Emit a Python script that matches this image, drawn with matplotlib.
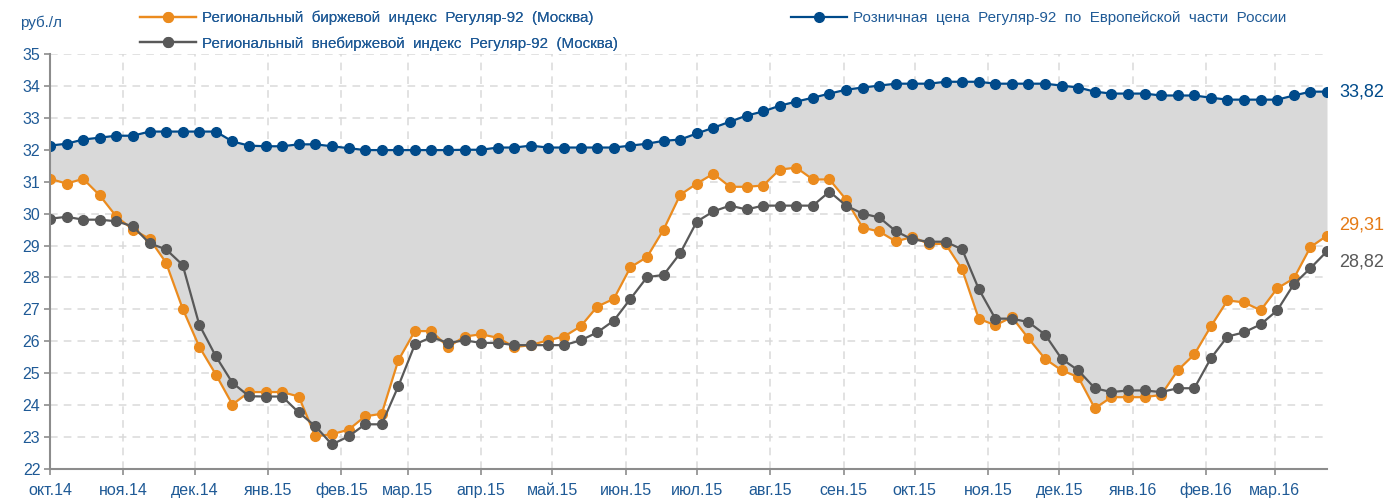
import matplotlib
matplotlib.use('Agg')
import matplotlib.pyplot as plt
import matplotlib.dates as mdates
from matplotlib.lines import Line2D
import numpy as np
import pandas as pd

plt.rcParams['font.family'] = ['Liberation Sans', 'DejaVu Sans']

# недельные даты
dates = pd.date_range('2014-10-01', periods=78, freq='7D')

# Розничная цена Регуляр-92 по Европейской части России
retail = [32.13, 32.19, 32.32, 32.38, 32.44, 32.44, 32.57, 32.57, 32.57, 32.57,
          32.57, 32.26, 32.13, 32.11, 32.11, 32.17, 32.17, 32.11, 32.05, 31.99,
          31.99, 31.99, 31.99, 31.99, 31.99, 32.00, 32.00, 32.07, 32.07, 32.13,
          32.07, 32.07, 32.07, 32.07, 32.07, 32.13, 32.19, 32.28, 32.32, 32.51,
          32.69, 32.88, 33.07, 33.20, 33.38, 33.51, 33.63, 33.76, 33.88, 33.95,
          34.01, 34.07, 34.07, 34.07, 34.13, 34.13, 34.13, 34.07, 34.07, 34.07,
          34.07, 34.01, 33.95, 33.82, 33.76, 33.76, 33.76, 33.70, 33.70, 33.70,
          33.63, 33.57, 33.57, 33.57, 33.57, 33.70, 33.82, 33.82]

# Региональный биржевой индекс Регуляр-92 (Москва)
exchange = [31.09, 30.94, 31.09, 30.57, 29.91, 29.50, 29.21, 28.46, 27.02, 25.83,
            24.96, 24.02, 24.41, 24.41, 24.41, 24.27, 23.02, 23.09, 23.23, 23.65,
            23.73, 25.40, 26.32, 26.32, 25.82, 26.15, 26.22, 26.11, 25.82, 25.88,
            26.03, 26.15, 26.47, 27.09, 27.33, 28.32, 28.64, 29.50, 30.59, 30.94,
            31.25, 30.84, 30.84, 30.88, 31.38, 31.44, 31.07, 31.07, 30.44, 29.56,
            29.44, 29.13, 29.27, 29.05, 29.05, 28.25, 26.71, 26.50, 26.76, 26.09,
            25.45, 25.09, 24.88, 23.90, 24.25, 24.25, 24.25, 24.32, 25.09, 25.59,
            26.47, 27.28, 27.22, 26.97, 27.66, 27.97, 28.95, 29.31]

# Региональный внебиржевой индекс Регуляр-92 (Москва)
otc = [29.84, 29.90, 29.81, 29.81, 29.76, 29.60, 29.07, 28.88, 28.39, 26.52,
       25.53, 24.70, 24.28, 24.27, 24.27, 23.77, 23.34, 22.77, 23.02, 23.40,
       23.40, 24.59, 25.90, 26.13, 25.95, 26.03, 25.95, 25.95, 25.88, 25.88,
       25.88, 25.88, 26.03, 26.28, 26.65, 27.33, 28.01, 28.08, 28.76, 29.75,
       30.07, 30.25, 30.13, 30.25, 30.25, 30.25, 30.25, 30.69, 30.25, 30.00,
       29.88, 29.45, 29.19, 29.12, 29.12, 28.88, 27.64, 26.71, 26.71, 26.60,
       26.21, 25.45, 25.09, 24.53, 24.41, 24.46, 24.46, 24.41, 24.53, 24.53,
       25.47, 26.15, 26.28, 26.53, 26.97, 27.79, 28.29, 28.82]

month_ticks = pd.date_range('2014-10-01', '2016-03-01', freq='MS')
month_labels = ['окт.14', 'ноя.14', 'дек.14', 'янв.15', 'фев.15', 'мар.15',
                'апр.15', 'май.15', 'июн.15', 'июл.15', 'авг.15', 'сен.15',
                'окт.15', 'ноя.15', 'дек.15', 'янв.16', 'фев.16', 'мар.16']

label_retail = 'Розничная  цена  Регуляр-92  по  Европейской  части  России'
label_exchange = 'Региональный  биржевой  индекс  Регуляр-92  (Москва)'
label_otc = 'Региональный  внебиржевой  индекс  Регуляр-92  (Москва)'

c_blue = '#004A8A'
c_orange = '#EB8B1E'
c_gray = '#595959'
c_text = '#1F5A96'

fig = plt.figure(figsize=(13.89, 4.98), dpi=100)
ax = fig.add_axes([50 / 1389, 1 - 469 / 498, (1327 - 50) / 1389, (469 - 54) / 498])

ax.fill_between(dates, exchange, retail, color='#D9D9D9', linewidth=0, zorder=1)

ms = 7
ax.plot(dates, exchange, color=c_orange, lw=1.6, marker='o', ms=ms, zorder=3)
ax.plot(dates, otc, color=c_gray, lw=1.6, marker='o', ms=ms, zorder=4)
ax.plot(dates, retail, color=c_blue, lw=1.6, marker='o', ms=ms, zorder=5)

ax.set_ylim(22, 35)
ax.set_yticks(range(22, 36))
ax.set_xlim(dates[0], dates[-1])
ax.set_xticks(month_ticks)
ax.set_xticklabels(month_labels)

ax.grid(True, color='#DADADA', linestyle=(0, (5, 4)), linewidth=1.1)
ax.set_axisbelow(True)

for s in ['top', 'right']:
    ax.spines[s].set_visible(False)
for s in ['left', 'bottom']:
    ax.spines[s].set_color('#8C8C8C')
    ax.spines[s].set_linewidth(1.5)
    ax.spines[s].set_zorder(6)

ax.tick_params(axis='both', colors='#8C8C8C', labelcolor=c_text, labelsize=11.5,
               length=4, width=1.2)
ax.tick_params(axis='x', pad=6)
ax.tick_params(axis='y', pad=3)

# подписи последних значений
ax.annotate('33,82', (dates[-1], retail[-1]), xytext=(9, 0), textcoords='offset points',
            fontsize=13, color=c_blue, va='center', ha='left', annotation_clip=False)
ax.annotate('29,31', (dates[-1], exchange[-1]), xytext=(9, 8), textcoords='offset points',
            fontsize=13, color='#E57A15', va='center', ha='left', annotation_clip=False)
ax.annotate('28,82', (dates[-1], otc[-1]), xytext=(9, -8), textcoords='offset points',
            fontsize=13, color=c_gray, va='center', ha='left', annotation_clip=False)

fig.text(20 / 1389, 1 - 23 / 498, 'руб./л', fontsize=11, color=c_text, va='center', ha='left')

h_ex = Line2D([], [], color=c_orange, lw=1.6, marker='o', ms=ms)
h_otc = Line2D([], [], color=c_gray, lw=1.6, marker='o', ms=ms)
h_ret = Line2D([], [], color=c_blue, lw=1.6, marker='o', ms=ms)

leg1 = fig.legend([h_ex, h_otc], [label_exchange, label_otc], loc='upper left',
                  bbox_to_anchor=(140 / 1389, 1 - 11 / 498), frameon=False,
                  fontsize=10.9, handlelength=3.7, handletextpad=0.4,
                  labelspacing=0.72, borderpad=0, borderaxespad=0)
for t in leg1.get_texts():
    t.set_color(c_text)
leg2 = fig.legend([h_ret], [label_retail], loc='upper left',
                  bbox_to_anchor=(791 / 1389, 1 - 11 / 498), frameon=False,
                  fontsize=10.9, handlelength=3.7, handletextpad=0.4,
                  borderpad=0, borderaxespad=0)
for t in leg2.get_texts():
    t.set_color(c_text)
fig.add_artist(leg1)

fig.savefig('out.png', dpi=100)
